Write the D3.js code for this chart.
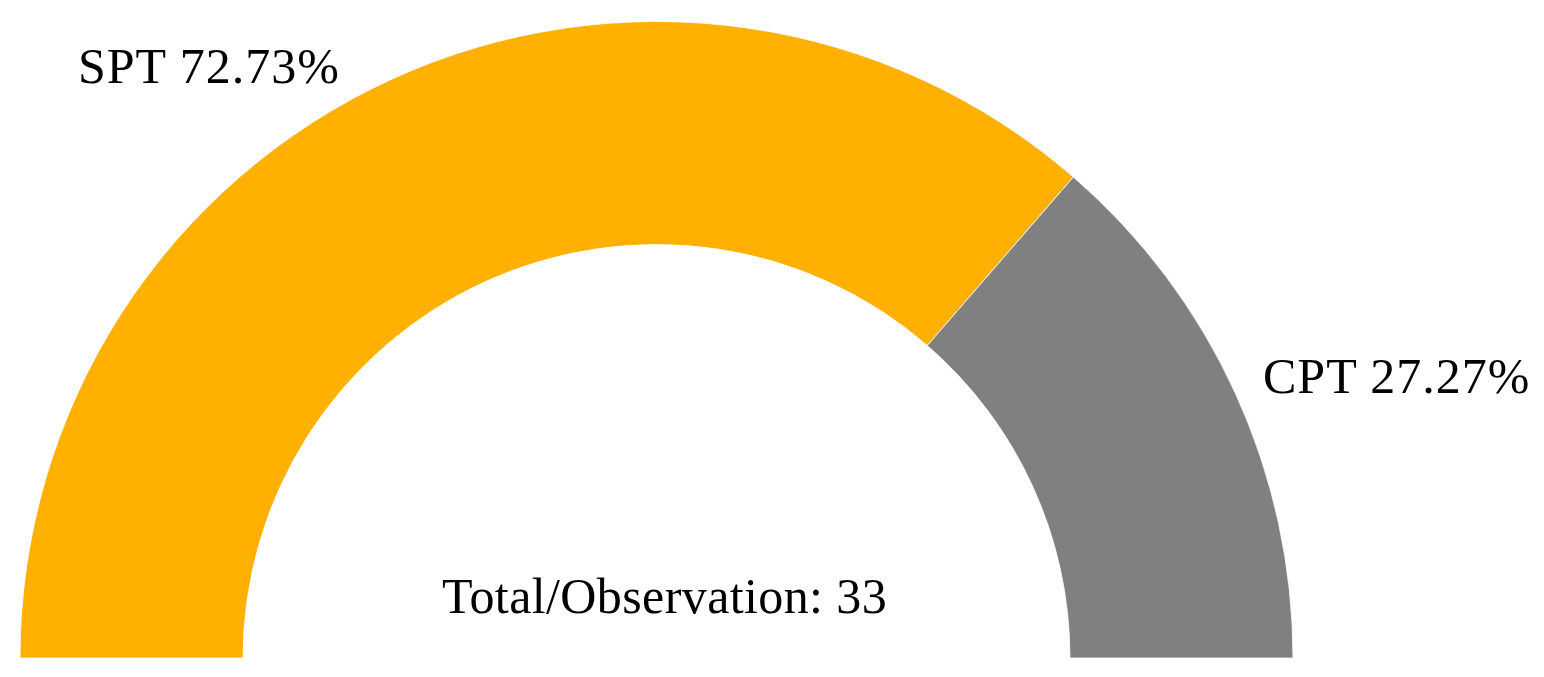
<!DOCTYPE html>
<html>
<head>
<meta charset="utf-8">
<script src="https://cdn.jsdelivr.net/npm/d3@7"></script>
<style>
  html, body { margin: 0; padding: 0; background: #fff; }
  svg { display: block; }
  text { font-family: "Liberation Serif", "Times New Roman", serif; fill: #000; }
</style>
</head>
<body>
<div class="content"></div>
<script>
const categories = ['SPT', 'CPT'];
const shares = [72.73, 27.27];
const colors = ['#FFB000', '#808080'];
const totalLabel = 'Total/Observation: 33';

const width = 1544, height = 677;
const cx = 656.5, cy = 658;
const outerR = 636.5, innerR = 413.5;

const svg = d3.select('div.content')
              .append('svg')
              .attr('width', width)
              .attr('height', height);

const pie = d3.pie()
              .sort(null)
              .startAngle(-Math.PI / 2)
              .endAngle(Math.PI / 2)
              .value((d) => d.value);

const arc = d3.arc()
              .innerRadius(innerR)
              .outerRadius(outerR);

const slices = pie(categories.map((c, i) => ({ name: c, value: shares[i], color: colors[i] })));

const g = svg.append('g')
             .attr('transform', `translate(${cx}, ${cy})`);

g.selectAll('path.slice')
 .data(slices)
 .enter()
 .append('path')
 .attr('class', 'slice')
 .attr('d', arc)
 .attr('fill', (d) => d.data.color)
 .attr('stroke', '#fff')
 .attr('stroke-width', 0.8);

// labels sit outside the ring, one per slice
const labelPos = [
  { x: 78, y: 83, anchor: 'start' },
  { x: 1263, y: 393, anchor: 'start' }
];

svg.selectAll('text.label')
   .data(slices)
   .enter()
   .append('text')
   .attr('class', 'label')
   .attr('x', (d, i) => labelPos[i].x)
   .attr('y', (d, i) => labelPos[i].y)
   .attr('text-anchor', (d, i) => labelPos[i].anchor)
   .style('font-size', '50px')
   .style('letter-spacing', '1px')
   .text((d) => `${d.data.name} ${d.data.value.toFixed(2)}%`);

svg.append('text')
   .attr('x', 442)
   .attr('y', 613)
   .attr('text-anchor', 'start')
   .style('font-size', '50px')
   .style('letter-spacing', '0.4px')
   .text(totalLabel);
</script>
</body>
</html>
